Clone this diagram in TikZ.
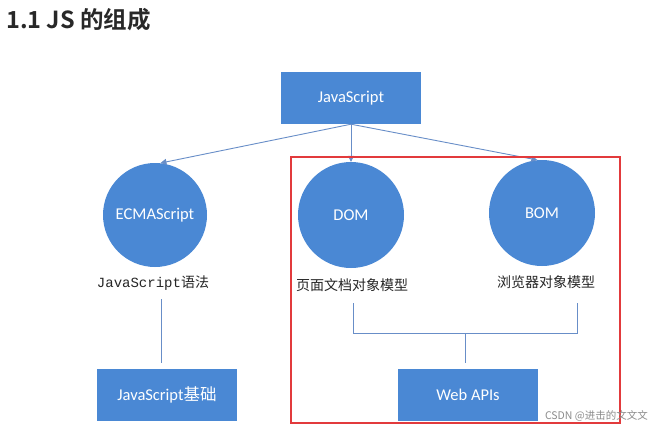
\documentclass[tikz,border=0pt]{standalone}
\usepackage{fontspec}
\setmainfont{Carlito}
\newfontfamily\cjk{Noto Sans CJK SC}
\newfontfamily\cjkbold{Noto Sans CJK SC Bold}
\newfontfamily\mono{Liberation Mono}
\usetikzlibrary{arrows.meta}
\definecolor{nodeblue}{RGB}{74,136,212}
\definecolor{linkblue}{RGB}{104,142,200}
\definecolor{frame}{RGB}{226,58,60}
\definecolor{titlegray}{RGB}{40,40,40}
\begin{document}
\begin{tikzpicture}[x=1pt,y=-1pt,
  bluebox/.style={rectangle,fill=nodeblue,text=white,minimum width=140pt,minimum height=52pt,inner sep=0pt,font=\fontsize{16.5}{18}\selectfont},
  bluecirc/.style={circle,fill=nodeblue,text=white,inner sep=0pt,font=\fontsize{16.5}{18}\selectfont},
  caption/.style={inner sep=0pt,text=black!85,font=\fontsize{14}{16}\selectfont},
  link/.style={draw=linkblue,line width=0.9pt},
  arrowlink/.style={link,-{Triangle[length=6pt,width=6pt]}}]
\useasboundingbox[fill=white] (0,0) rectangle (650,428);
% title
\node[anchor=west,inner sep=0pt,text=titlegray,font=\cjkbold\fontsize{23.5}{26}\selectfont] (title) at (6,20) {1.1 JS 的组成};
% nodes
\node[bluebox] (js) at (351,98) {JavaScript};
\node[bluecirc,minimum size=104pt] (ecma) at (155,215) {ECMAScript};
\node[bluecirc,minimum size=106pt] (dom) at (351,215) {DOM};
\node[bluecirc,minimum size=106pt] (bom) at (542,213) {BOM};
\node[caption] (ecmalab) at (153,283) {\mono JavaScript\cjk 语法};
\node[caption] (domlab) at (352,285) {\cjk 页面文档对象模型};
\node[caption] (bomlab) at (546,282) {\cjk 浏览器对象模型};
\node[bluebox] (jsbase) at (167,395) {JavaScript{\cjk 基础}};
\node[bluebox] (webapi) at (468,395) {Web APIs};
% arrows
\draw[arrowlink] (js.south) -- (ecma.84);
\draw[arrowlink] (js.south) -- (dom.north);
\draw[arrowlink] (js.south) -- (bom.95);
% lower connectors
\coordinate (e1) at (161,299);
\coordinate (e2) at (161,363);
\draw[link] (e1) -- (e2);
\coordinate (b1) at (353,303);
\coordinate (b2) at (353,333);
\coordinate (b3) at (577,333);
\coordinate (b4) at (577,303);
\coordinate (s1) at (465,333);
\coordinate (s2) at (465,363);
\draw[link] (b1) -- (b2) -- (b3) -- (b4);
\draw[link] (s1) -- (s2);
% red frame
\draw[frame,line width=2pt] (291,157) rectangle (620,423);
% watermark
\node[anchor=east,inner sep=0pt,text=black!45,font=\cjk\fontsize{10.5}{12}\selectfont] (wm) at (648,416) {CSDN @进击的文文文};
\end{tikzpicture}
\end{document}
